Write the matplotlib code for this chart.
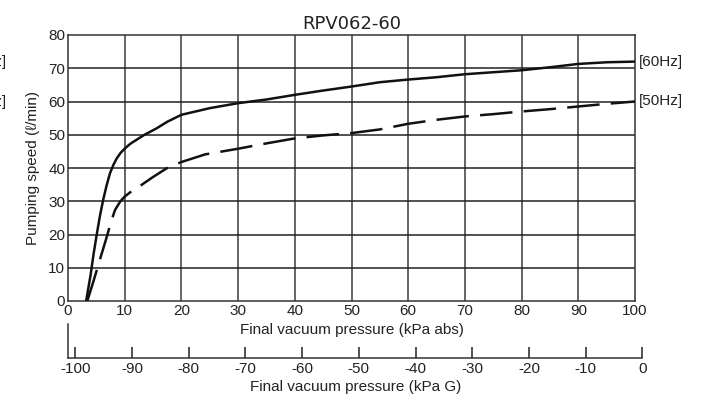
import matplotlib
matplotlib.use("Agg")
import matplotlib.pyplot as plt
import numpy as np

plt.rcParams['font.family'] = ['Liberation Sans', 'DejaVu Sans']

# Data (kPa abs, l/min)
p60 = [3.2, 4.0, 4.5, 5.05, 5.6, 6.2, 6.8, 7.4, 8.0, 8.6, 9.3, 10.05, 11.0, 12.1, 13.5, 15.6, 17.5, 20.0, 25.0, 30.0, 35.0, 40.0, 45.0, 50.0, 55.0, 60.0, 65.0, 70.0, 75.0, 80.0, 85.0, 90.0, 95.0, 100.0]
s60 = [0.0, 8.0, 14.0, 19.8, 25.3, 30.4, 34.7, 38.4, 40.9, 42.9, 44.6, 45.9, 47.3, 48.5, 50.0, 51.9, 53.9, 56.0, 58.0, 59.5, 60.6, 62.0, 63.3, 64.5, 65.8, 66.6, 67.3, 68.2, 68.8, 69.4, 70.3, 71.3, 71.8, 72.0]

p50 = [3.4, 4.5, 5.6, 6.7, 7.7, 8.3, 9.2, 10.0, 11.2, 12.7, 15.0, 17.4, 20.0, 24.2, 30.0, 35.0, 40.0, 45.0, 50.0, 55.0, 60.0, 65.0, 70.0, 75.0, 80.0, 85.0, 90.0, 95.0, 100.0]
s50 = [0.0, 6.0, 12.3, 18.5, 24.4, 27.4, 29.9, 31.4, 33.0, 34.6, 37.3, 39.9, 41.8, 44.1, 45.8, 47.4, 48.9, 49.8, 50.5, 51.6, 53.3, 54.5, 55.5, 56.2, 57.0, 57.7, 58.5, 59.3, 60.0]

xticks_abs = [0, 10, 20, 30, 40, 50, 60, 70, 80, 90, 100]
yticks = [0, 10, 20, 30, 40, 50, 60, 70, 80]
xticks_g = [-100, -90, -80, -70, -60, -50, -40, -30, -20, -10, 0]
atm = 101.3

W, H = 703, 401
fig = plt.figure(figsize=(W / 100, H / 100), dpi=100)

ax = fig.add_axes([68 / W, (H - 301) / H, 567 / W, 266 / H])
ax.set_xlim(0, 100)
ax.set_ylim(0, 80)
ax.set_xticks(xticks_abs)
ax.set_yticks(yticks)
for v in xticks_abs[1:-1]:
    ax.axvline(v, color='#3a3a3a', lw=1.1, zorder=1)
for v in yticks[1:-1]:
    ax.axhline(v, color='#222222', lw=1.1, zorder=1)
ax.tick_params(length=0, labelsize=11, pad=2, colors='#222222')
for s in ax.spines.values():
    s.set_color('#333333')
    s.set_linewidth(1.1)

ax.plot(p60, s60, color='#111111', lw=1.8, zorder=3, solid_capstyle='butt', solid_joinstyle='round')
ax.plot(p50, s50, color='#111111', lw=1.8, zorder=3, dashes=(13, 4.5), dash_capstyle='butt', dash_joinstyle='round')

ax.text(100.6, 72, '[60Hz]', fontsize=11, va='center', ha='left', color='#222222')
ax.text(100.6, 60, '[50Hz]', fontsize=11, va='center', ha='left', color='#222222')

ax.set_title('RPV062-60', fontsize=13, family='DejaVu Sans', pad=4, color='#222222')
ax.set_ylabel('Pumping speed (ℓ/min)', fontsize=11, labelpad=6, color='#222222')
ax.set_xlabel('Final vacuum pressure (kPa abs)', fontsize=11, labelpad=4, color='#222222')

# Gauge axis
ax2 = fig.add_axes([68 / W, (H - 358) / H, (atm * 5.67) / W, 34 / H])
ax2.set_xlim(-atm, 0)
ax2.set_ylim(0, 1)
ax2.patch.set_visible(False)
ax2.spines['top'].set_visible(False)
ax2.spines['right'].set_visible(False)
for s in ['left', 'bottom']:
    ax2.spines[s].set_color('#333333')
    ax2.spines[s].set_linewidth(1.1)
ax2.set_yticks([])
ax2.set_xticks(xticks_g)
ax2.set_xticklabels([str(v) for v in xticks_g])
ax2.tick_params(axis='x', direction='in', length=8, width=1.1, labelsize=11, pad=3, colors='#222222')
ax2.set_xlabel('Final vacuum pressure (kPa G)', fontsize=11, labelpad=3, color='#222222')

# Fragments from neighbouring chart at left edge (cut off in the reference too)
fig.text(7 / W, 1 - 62 / H, '[60Hz]', fontsize=11, ha='right', va='center', color='#222222')
fig.text(7 / W, 1 - 102 / H, '[50Hz]', fontsize=11, ha='right', va='center', color='#222222')

fig.savefig('out.png', dpi=100)
